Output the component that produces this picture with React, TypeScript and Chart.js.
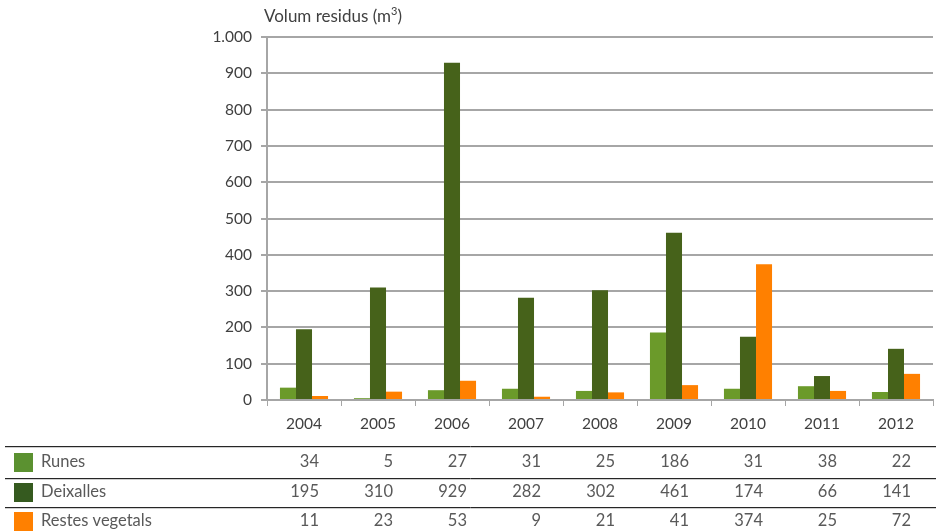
import React, { useEffect, useRef } from "react";
import { Chart, registerables } from "chart.js";

Chart.register(...registerables);

const years = ["2004", "2005", "2006", "2007", "2008", "2009", "2010", "2011", "2012"];
const runes = [34, 5, 27, 31, 25, 186, 31, 38, 22];
const deixalles = [195, 310, 929, 282, 302, 461, 174, 66, 141];
const restes = [11, 23, 53, 9, 21, 41, 374, 25, 72];
const seriesNames = ["Runes", "Deixalles", "Restes vegetals"];
const barColors = ["#6b9a2a", "#46621a", "#ff8000"];
const legendColors = ["#5b9130", "#355a1f", "#ff8000"];

const FONT = "Lato, 'Open Sans', sans-serif";
const TEXT = "#404040";

const tablePlugin = {
  id: "tablePlugin",
  afterDraw(chart: any) {
    const ctx = chart.ctx;
    const x = chart.scales.x;
    ctx.save();
    // title
    ctx.fillStyle = TEXT;
    ctx.font = `17px ${FONT}`;
    ctx.textBaseline = "middle";
    ctx.textAlign = "left";
    ctx.fillText("Volum residus (m", 264, 17);
    const w = ctx.measureText("Volum residus (m").width;
    ctx.font = `11px ${FONT}`;
    ctx.fillText("3", 264 + w, 11);
    const w2 = ctx.measureText("3").width;
    ctx.font = `17px ${FONT}`;
    ctx.fillText(")", 264 + w + w2, 17);

    // table lines
    const lineYs = [446, 478, 507];
    lineYs.forEach((ly) => {
      ctx.strokeStyle = "#262626";
      ctx.lineWidth = 1;
      ctx.beginPath();
      ctx.moveTo(5, ly + 0.5);
      ctx.lineTo(936, ly + 0.5);
      ctx.stroke();
      ctx.strokeStyle = "#cfcfcf";
      ctx.beginPath();
      ctx.moveTo(5, ly + 1.5);
      ctx.lineTo(936, ly + 1.5);
      ctx.stroke();
    });

    const rows = [runes, deixalles, restes];
    const rowYs = [462, 492, 521];
    rows.forEach((vals, r) => {
      ctx.fillStyle = legendColors[r];
      ctx.fillRect(14, rowYs[r] - 9, 19, 19);
      ctx.fillStyle = "#595959";
      ctx.font = `16.5px ${FONT}`;
      ctx.textAlign = "left";
      ctx.textBaseline = "middle";
      ctx.fillText(seriesNames[r], 41, rowYs[r]);
      ctx.textAlign = "right";
      vals.forEach((v, i) => {
        const cx = x.getPixelForValue(i);
        ctx.fillText(String(v), cx + 15, rowYs[r]);
      });
    });
    ctx.restore();
  },
};

export default function App() {
  const ref = useRef<HTMLCanvasElement | null>(null);
  useEffect(() => {
    document.body.style.margin = "0";
    const chart = new Chart(ref.current as HTMLCanvasElement, {
      type: "bar",
      data: {
        labels: years,
        datasets: [
          { label: seriesNames[0], data: runes, backgroundColor: barColors[0] },
          { label: seriesNames[1], data: deixalles, backgroundColor: barColors[1] },
          { label: seriesNames[2], data: restes, backgroundColor: barColors[2] },
        ],
      },
      options: {
        animation: false,
        responsive: false,
        devicePixelRatio: 1,
        layout: { padding: { top: 37, right: 3, bottom: 92, left: 0 } },
        datasets: { bar: { categoryPercentage: 0.65, barPercentage: 1.0 } } as any,
        plugins: { legend: { display: false }, tooltip: { enabled: false } },
        scales: {
          x: {
            offset: true,
            grid: {
              offset: true,
              drawOnChartArea: false,
              drawTicks: true,
              tickLength: 6,
              color: "#a6a6a6",
            },
            border: { color: "#a6a6a6", width: 2 },
            ticks: {
              color: TEXT,
              font: { family: FONT, size: 15.5 },
              padding: 9,
              maxRotation: 0,
            },
            afterFit: (s: any) => {
              s.height = 40;
            },
          },
          y: {
            min: 0,
            max: 1000,
            ticks: {
              stepSize: 100,
              color: TEXT,
              font: { family: FONT, size: 15.5 },
              padding: 9,
              callback: (v: any) => (v === 1000 ? "1.000" : String(v)),
            },
            grid: { color: "#a6a6a6", lineWidth: 2, tickLength: 6 },
            border: { color: "#a6a6a6", width: 2 },
            afterFit: (s: any) => {
              s.width = 267;
            },
          },
        },
      },
      plugins: [tablePlugin],
    });
    return () => chart.destroy();
  }, []);
  return (
    <div style={{ position: "absolute", left: 0, top: 0, width: 936, height: 532 }}>
      <canvas ref={ref} width={936} height={532} style={{ width: 936, height: 532 }} />
    </div>
  );
}
